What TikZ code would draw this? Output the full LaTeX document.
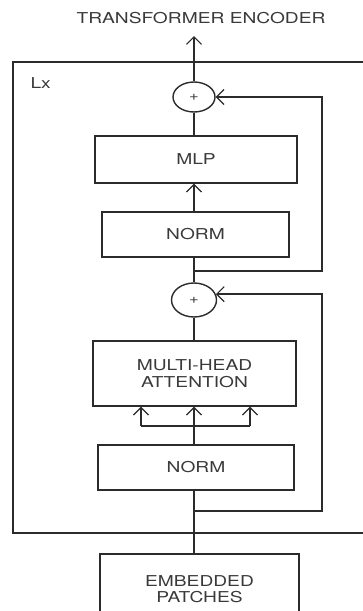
\documentclass[tikz,border=0pt]{standalone}
\usepackage{fontspec}
\setmainfont{TeX Gyre Heros}[FakeStretch=1.28]
\usetikzlibrary{arrows.meta,shapes.geometric}
\definecolor{ink}{HTML}{2B2B2B}
\definecolor{txt}{HTML}{3A3A3A}
\begin{document}
\begin{tikzpicture}[x=1pt,y=-1pt,
  every node/.style={text=txt,font=\fontsize{15}{16.5}\selectfont},
  blk/.style={draw=ink,line width=1.4pt,rectangle,inner sep=0pt,align=center},
  sumnode/.style={draw=ink,line width=1.4pt,ellipse,inner sep=0pt,
    minimum width=42pt,minimum height=30pt,font=\fontsize{13}{13}\selectfont},
  wire/.style={draw=ink,line width=1.3pt},
  arr/.style={wire,-{Straight Barb[length=7.5pt,width=15pt,line width=1.2pt]}}
]
\useasboundingbox (0,0) rectangle (362,611);

% layer frame, repeated L times
\draw[ink,line width=2pt] (375,62) -- (13,62) -- (13,533) -- (375,533);
\node[anchor=west] (lx) at (27,83) {Lx};

% title and output
\node (title) at (201,18) {TRANSFORMER ENCODER};
\coordinate (out) at (194,36);

% blocks
\node[sumnode] (c1) at (194,97) {+};
\node[blk,minimum width=202pt,minimum height=47pt] (mlp) at (196,159.5) {MLP};
\node[blk,minimum width=187pt,minimum height=45pt] (n1) at (195.5,234.5) {NORM};
\node[sumnode,minimum width=45pt,minimum height=34pt] (c2) at (194,300) {+};
\node[blk,minimum width=203pt,minimum height=65pt] (mha) at (194.5,373.5) {MULTI-HEAD\\ATTENTION};
\node[blk,minimum width=196pt,minimum height=45pt] (n2) at (196,467.5) {NORM};
\node[blk,minimum width=199pt,minimum height=70pt] (emb) at (199.5,589) {EMBEDDED\\PATCHES};

% branch points
\coordinate (ra) at (194,271);
\coordinate (rar) at (322,271);
\coordinate (rb) at (194,511);
\coordinate (rbr) at (322,511);
\coordinate (qkv) at (194,426);
\coordinate (ql) at (141,426);
\coordinate (qr) at (250,426);

% main path
\draw[arr] (c1.north) -- (out);
\draw[wire] (mlp.north -| c1) -- (c1.south);
\draw[arr] (n1.north -| c1) -- (mlp.south -| c1);
\draw[wire] (c2.north) -- (n1.south -| c2);
\draw[wire] (mha.north -| c2) -- (c2.south);
\draw[arr] (n2.north -| c2) -- (mha.south -| c2);
\draw[wire] (emb.north -| c2) -- (n2.south -| c2);

% query / key / value inputs
\draw[wire] (ql) -- (qr);
\draw[arr] (ql) -- (ql |- mha.south);
\draw[arr] (qr) -- (qr |- mha.south);

% residual connections
\draw[arr] (ra) -- (rar) -- (rar |- c1.east) -- (c1.east);
\draw[arr] (rb) -- (rbr) -- (c2.15 -| rbr) -- (c2.15);
\end{tikzpicture}
\end{document}
